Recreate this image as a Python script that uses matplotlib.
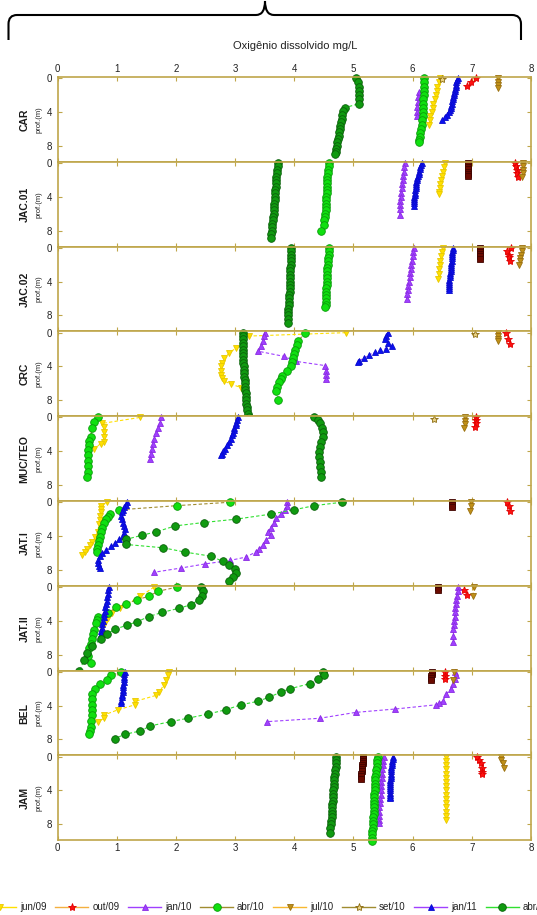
import matplotlib
matplotlib.use("Agg")
import matplotlib.pyplot as plt
from matplotlib.path import Path
from matplotlib.patches import PathPatch
from matplotlib.lines import Line2D

plt.rcParams["font.family"] = ["Liberation Sans", "DejaVu Sans"]

# campaigns in legend order
campaigns = ["jun/09", "out/09", "jan/10", "abr/10", "jul/10", "set/10",
             "jan/11", "abr/11", "jul/11"]

stations = ["CAR", "JAC.01", "JAC.02", "CRC", "MUC/TEO", "JAT.I", "JAT.II", "BEL", "JAM"]

# dissolved oxygen (mg/L) and depth (m) per campaign, one dict per station
car = {
    "jun/09": ([6.46, 6.44, 6.42, 6.41, 6.39, 6.37, 6.35, 6.34, 6.32, 6.30, 6.29, 6.28],
               [0, 0.5, 1.0, 1.5, 2.0, 2.5, 3.0, 3.5, 4.0, 4.5, 5.0, 5.5]),
    "out/09": ([7.07, 6.99, 6.92], [0, 0.5, 0.95]),
    "jan/10": ([6.10, 6.09, 6.09, 6.08, 6.08, 6.08], [1.6, 2.2, 2.8, 3.4, 4.0, 4.5]),
    "abr/10": ([6.20, 6.20, 6.19, 6.19, 6.19, 6.18, 6.18, 6.18, 6.17, 6.17, 6.16, 6.15,
                6.14, 6.13, 6.12, 6.11, 6.11],
               [0, 0.5, 1.0, 1.5, 2.0, 2.5, 3.0, 3.5, 4.0, 4.5, 5.0, 5.5, 6.0, 6.5, 7.0, 7.3, 7.6]),
    "jul/10": ([7.45, 7.45, 7.45, 7.45], [0, 0.4, 0.8, 1.2]),
    "set/10": ([6.50], [0.05]),
    "jan/11": ([6.76, 6.75, 6.74, 6.73, 6.73, 6.72, 6.71, 6.70, 6.70, 6.69, 6.68, 6.67,
                6.66, 6.65, 6.64, 6.63, 6.61, 6.58, 6.54, 6.50],
               [0, 0.25, 0.5, 0.75, 1.0, 1.25, 1.5, 1.75, 2.0, 2.25, 2.5, 2.75, 3.0, 3.25,
                3.5, 3.75, 4.0, 4.3, 4.6, 4.9]),
    "abr/11": ([5.04, 5.07, 5.09, 5.10, 5.10, 5.10, 5.10, 4.85, 4.83, 4.81, 4.80, 4.79,
                4.78, 4.77, 4.76, 4.75, 4.74, 4.73, 4.72, 4.71, 4.70, 4.69],
               [0, 0.5, 1.0, 1.5, 2.0, 2.5, 3.0, 3.5, 3.9, 4.4, 4.8, 5.2, 5.6, 6.0, 6.4,
                6.8, 7.2, 7.6, 8.0, 8.4, 8.7, 9.0]),
}

jac01 = {
    "jun/09": ([6.55, 6.53, 6.51, 6.50, 6.48, 6.47, 6.46, 6.45, 6.44],
               [0, 0.5, 1.0, 1.5, 2.0, 2.5, 3.0, 3.4, 3.7]),
    "out/09": ([7.73, 7.75, 7.76, 7.77, 7.78], [0, 0.4, 0.8, 1.2, 1.6]),
    "jan/10": ([5.87, 5.86, 5.85, 5.84, 5.83, 5.82, 5.82, 5.81, 5.80, 5.79, 5.79, 5.78, 5.78],
               [0, 0.5, 1.0, 1.5, 2.0, 2.5, 3.0, 3.5, 4.0, 4.5, 5.0, 5.5, 6.1]),
    "abr/10": ([4.58, 4.58, 4.57, 4.57, 4.56, 4.56, 4.56, 4.55, 4.55, 4.55, 4.54, 4.54,
                4.53, 4.53, 4.53, 4.52, 4.52, 4.51, 4.51, 4.45],
               [0, 0.4, 0.8, 1.2, 1.6, 2.0, 2.4, 2.8, 3.2, 3.6, 4.0, 4.4, 4.8, 5.2, 5.6,
                6.0, 6.4, 6.8, 7.3, 8.0]),
    "jul/10": ([7.87, 7.87, 7.86, 7.86, 7.85], [0, 0.4, 0.8, 1.2, 1.7]),
    "jan/11": ([6.15, 6.14, 6.13, 6.12, 6.11, 6.10, 6.09, 6.08, 6.07, 6.06, 6.06, 6.05,
                6.05, 6.04, 6.04, 6.04, 6.03, 6.03, 6.03, 6.03, 6.02],
               [0, 0.25, 0.5, 0.75, 1.0, 1.25, 1.5, 1.75, 2.0, 2.25, 2.5, 2.75, 3.0, 3.25,
                3.5, 3.75, 4.0, 4.25, 4.5, 4.75, 5.1]),
    "abr/11": ([3.72, 3.72, 3.71, 3.71, 3.70, 3.70, 3.69, 3.69, 3.68, 3.68, 3.67, 3.67,
                3.66, 3.66, 3.65, 3.65, 3.64, 3.64, 3.63, 3.62, 3.62, 3.61, 3.60],
               [0, 0.4, 0.8, 1.2, 1.6, 2.0, 2.4, 2.8, 3.2, 3.6, 4.0, 4.4, 4.8, 5.2, 5.6,
                6.0, 6.4, 6.8, 7.2, 7.6, 8.0, 8.4, 8.9]),
    "jul/11": ([6.94, 6.94, 6.94, 6.93, 6.93, 6.93, 6.93], [0, 0.25, 0.5, 0.75, 1.0, 1.25, 1.5]),
}

jac02 = {
    "jun/09": ([6.51, 6.50, 6.48, 6.47, 6.46, 6.45, 6.44, 6.43],
               [0, 0.5, 1.0, 1.5, 2.0, 2.5, 3.1, 3.7]),
    "out/09": ([7.67, 7.60, 7.62, 7.63, 7.65], [0, 0.4, 0.8, 1.1, 1.5]),
    "jan/10": ([6.02, 6.01, 6.00, 5.99, 5.98, 5.97, 5.96, 5.95, 5.94, 5.93, 5.92, 5.91, 5.90],
               [0, 0.5, 1.0, 1.5, 2.0, 2.5, 3.0, 3.5, 4.0, 4.5, 5.0, 5.5, 6.1]),
    "abr/10": ([4.58, 4.58, 4.58, 4.57, 4.57, 4.57, 4.56, 4.56, 4.56, 4.55, 4.55, 4.55,
                4.54, 4.54, 4.54, 4.53, 4.53, 4.53, 4.52],
               [0, 0.4, 0.8, 1.2, 1.6, 2.0, 2.4, 2.8, 3.2, 3.6, 4.0, 4.4, 4.8, 5.2, 5.6,
                6.0, 6.4, 6.8, 7.0]),
    "jul/10": ([7.84, 7.84, 7.83, 7.82, 7.81, 7.80], [0, 0.4, 0.8, 1.2, 1.6, 2.0]),
    "jan/11": ([6.68, 6.68, 6.67, 6.67, 6.67, 6.66, 6.66, 6.65, 6.65, 6.65, 6.64, 6.64,
                6.63, 6.63, 6.63, 6.62, 6.62, 6.62, 6.61, 6.61, 6.61],
               [0, 0.25, 0.5, 0.75, 1.0, 1.25, 1.5, 1.75, 2.0, 2.25, 2.5, 2.75, 3.0, 3.25,
                3.5, 3.75, 4.0, 4.25, 4.5, 4.75, 5.0]),
    "abr/11": ([3.95, 3.95, 3.95, 3.94, 3.94, 3.94, 3.93, 3.93, 3.93, 3.93, 3.92, 3.92,
                3.92, 3.92, 3.91, 3.91, 3.91, 3.91, 3.90, 3.90, 3.90, 3.90, 3.90],
               [0, 0.4, 0.8, 1.2, 1.6, 2.0, 2.4, 2.8, 3.2, 3.6, 4.0, 4.4, 4.8, 5.2, 5.6,
                6.0, 6.4, 6.8, 7.2, 7.6, 8.0, 8.4, 8.9]),
    "jul/11": ([7.14, 7.14, 7.14, 7.13, 7.13, 7.13], [0, 0.25, 0.5, 0.75, 1.0, 1.3]),
}

crc = {
    "jun/09": ([4.87, 3.24, 3.02, 2.90, 2.81, 2.78, 2.77, 2.77, 2.77, 2.78, 2.81, 2.93, 3.10],
               [0, 0.4, 1.8, 2.4, 3.0, 3.6, 4.0, 4.5, 5.0, 5.4, 5.7, 6.1, 6.5]),
    "out/09": ([7.58, 7.61, 7.64], [0, 0.8, 1.4]),
    "jan/10": ([3.50, 3.49, 3.48, 3.44, 3.39, 3.82, 4.03, 4.52, 4.53, 4.53, 4.53],
               [0, 0.4, 1.0, 1.6, 2.2, 2.8, 3.4, 3.9, 4.5, 5.0, 5.5]),
    "abr/10": ([4.19, 4.06, 4.04, 4.01, 4.00, 3.98, 3.96, 3.94, 3.87, 3.80, 3.77, 3.74,
                3.71, 3.70, 3.73],
               [0, 1.0, 1.5, 2.0, 2.5, 3.0, 3.5, 3.9, 4.5, 5.1, 5.5, 5.9, 6.4, 6.9, 8.0]),
    "jul/10": ([7.44, 7.44, 7.44, 7.44], [0, 0.35, 0.7, 1.0]),
    "set/10": ([7.06], [0.1]),
    "jan/11": ([5.58, 5.55, 5.53, 5.58, 5.65, 5.55, 5.45, 5.36, 5.27, 5.18, 5.10, 5.07],
               [0, 0.4, 0.8, 1.2, 1.6, 1.9, 2.1, 2.35, 2.6, 3.0, 3.3, 3.5]),
    "abr/11": ([3.13, 3.13, 3.13, 3.13, 3.13, 3.13, 3.14, 3.14, 3.14, 3.14, 3.15, 3.15,
                3.15, 3.15, 3.16, 3.16, 3.17, 3.17, 3.18, 3.18, 3.19, 3.19, 3.20, 3.21,
                3.22, 3.23],
               [0, 0.4, 0.8, 1.2, 1.6, 2.0, 2.4, 2.8, 3.2, 3.6, 4.0, 4.4, 4.8, 5.2, 5.6,
                6.0, 6.4, 6.8, 7.2, 7.6, 8.0, 8.4, 8.8, 9.2, 9.6, 10.0]),
}

muc = {
    "jun/09": ([1.39, 0.76, 0.79, 0.79, 0.79, 0.79, 0.73, 0.62],
               [0, 0.7, 1.1, 1.7, 2.3, 2.9, 3.1, 3.7]),
    "out/09": ([7.07, 7.07, 7.07, 7.06], [0, 0.35, 0.7, 1.1]),
    "jan/10": ([1.75, 1.73, 1.70, 1.67, 1.63, 1.61, 1.60, 1.58, 1.57],
               [0, 0.6, 1.3, 1.9, 2.5, 3.1, 3.7, 4.3, 4.9]),
    "abr/10": ([0.69, 0.62, 0.58, 0.56, 0.54, 0.53, 0.52, 0.52, 0.52, 0.51, 0.51, 0.50],
               [0, 0.5, 1.3, 2.3, 2.8, 3.3, 3.9, 4.5, 5.2, 5.8, 6.5, 7.1]),
    "jul/10": ([6.88, 6.88, 6.88, 6.87], [0, 0.4, 0.8, 1.2]),
    "set/10": ([6.36], [0.2]),
    "jan/11": ([3.05, 3.03, 3.02, 3.01, 2.99, 2.98, 2.97, 2.95, 2.93, 2.90, 2.86, 2.83,
                2.80, 2.78, 2.77],
               [0, 0.3, 0.6, 0.9, 1.2, 1.5, 1.8, 2.1, 2.5, 2.9, 3.3, 3.7, 4.0, 4.3, 4.5]),
    "abr/11": ([4.34, 4.40, 4.43, 4.47, 4.49, 4.48, 4.45, 4.44, 4.42, 4.42, 4.43, 4.44,
                4.45, 4.46],
               [0, 0.3, 0.7, 1.2, 1.7, 2.3, 2.9, 3.5, 4.1, 4.7, 5.3, 5.9, 6.5, 7.0]),
}

jat1 = {
    "jun/09": ([0.83, 0.74, 0.73, 0.73, 0.72, 0.71, 0.70, 0.68, 0.64, 0.59, 0.55, 0.50,
                0.46, 0.42],
               [0, 0.4, 0.8, 1.2, 1.6, 2.1, 2.6, 3.5, 4.1, 4.7, 5.1, 5.5, 5.9, 6.3]),
    "out/09": ([7.60, 7.63, 7.65], [0, 0.5, 1.0]),
    "jan/10": ([3.87, 3.88, 3.85, 3.77, 3.70, 3.65, 3.60, 3.55, 3.60, 3.53, 3.48, 3.40,
                3.35, 3.18, 2.91, 2.50, 2.08, 1.63],
               [0, 0.4, 0.9, 1.4, 1.9, 2.4, 3.0, 3.5, 3.9, 4.5, 5.1, 5.5, 5.9, 6.5, 6.9,
                7.3, 7.8, 8.3]),
    "abr/10": ([2.91, 2.02, 1.04, 0.89, 0.85, 0.82, 0.79, 0.76, 0.74, 0.72, 0.70, 0.68,
                0.67, 0.66],
               [0, 0.4, 0.9, 1.4, 1.7, 2.0, 2.5, 3.0, 3.5, 4.1, 4.6, 5.1, 5.5, 5.9]),
    "jul/10": ([6.98, 6.98, 6.97], [0, 0.5, 1.0]),
    "jan/11": ([1.18, 1.15, 1.12, 1.10, 1.09, 1.08, 1.09, 1.11, 1.13, 1.14, 1.13, 1.10,
                1.04, 0.97, 0.90, 0.82, 0.75, 0.71, 0.69, 0.69, 0.70, 0.71],
               [0, 0.3, 0.6, 0.9, 1.2, 1.6, 2.0, 2.4, 2.8, 3.2, 3.6, 4.0, 4.4, 4.8, 5.2,
                5.6, 6.0, 6.4, 6.8, 7.2, 7.5, 7.8]),
    "abr/11": ([4.80, 4.34, 3.99, 3.61, 3.02, 2.47, 1.99, 1.67, 1.43, 1.16, 1.16, 1.79,
                2.15, 2.60, 2.79, 2.89, 3.00, 3.02, 2.97, 2.89],
               [0, 0.4, 0.9, 1.4, 2.0, 2.4, 2.8, 3.5, 3.9, 4.4, 5.0, 5.4, 5.9, 6.4, 7.0,
                7.4, 7.9, 8.4, 8.9, 9.3]),
    "jul/11": ([6.67, 6.67, 6.66], [0, 0.3, 0.6]),
}

jat2 = {
    "jun/09": ([1.63, 1.40, 1.05, 0.92, 0.85, 0.80, 0.76, 0.75, 0.75],
               [0, 1.1, 2.5, 3.1, 3.7, 4.2, 4.8, 5.4, 6.0]),
    "out/09": ([6.86, 6.92], [0.3, 0.9]),
    "jan/10": ([6.77, 6.76, 6.75, 6.74, 6.73, 6.72, 6.71, 6.71, 6.70, 6.70, 6.69, 6.69, 6.69],
               [0, 0.5, 1.0, 1.5, 2.0, 2.5, 3.0, 3.5, 4.0, 4.5, 5.0, 5.8, 6.5]),
    "abr/10": ([2.02, 1.70, 1.54, 1.34, 1.16, 0.99, 0.85, 0.68, 0.66, 0.65, 0.62, 0.60,
                0.59, 0.56, 0.54, 0.52, 0.56],
               [0, 0.5, 1.1, 1.5, 2.0, 2.4, 3.1, 3.5, 3.9, 4.3, 5.1, 5.6, 6.2, 6.7, 7.2,
                8.2, 9.0]),
    "jul/10": ([7.03, 7.02], [0, 1.1]),
    "jan/11": ([0.87, 0.86, 0.85, 0.84, 0.83, 0.82, 0.81, 0.80, 0.79, 0.78, 0.77, 0.76,
                0.75, 0.74, 0.73, 0.72],
               [0, 0.4, 0.8, 1.2, 1.6, 2.0, 2.4, 2.8, 3.2, 3.6, 4.0, 4.4, 4.8, 5.2, 5.6, 6.0]),
    "abr/11": ([2.43, 2.45, 2.44, 2.39, 2.25, 2.06, 1.77, 1.54, 1.35, 1.18, 0.97, 0.83,
                0.73, 0.59, 0.50, 0.45, 0.37],
               [0, 0.5, 1.1, 1.5, 2.1, 2.5, 3.0, 3.5, 4.1, 4.5, 5.0, 5.6, 6.2, 7.0, 7.8,
                8.6, 10.0]),
    "jul/11": ([6.43, 6.43], [0, 0.4]),
}

bel = {
    "jun/09": ([1.89, 1.86, 1.83, 1.80, 1.72, 1.66, 1.31, 1.31, 1.02, 0.79, 0.79, 0.68],
               [0, 0.4, 1.0, 1.5, 2.4, 2.8, 3.5, 3.9, 4.5, 5.1, 5.5, 5.9]),
    "out/09": ([6.54, 6.54, 6.55], [0, 0.45, 0.9]),
    "jan/10": ([6.71, 6.73, 6.72, 6.69, 6.65, 6.57, 6.51, 6.45, 6.40, 5.71, 5.04, 4.43, 3.54],
               [0, 0.4, 0.8, 1.4, 2.0, 2.6, 3.5, 3.7, 3.9, 4.4, 4.8, 5.5, 5.9]),
    "abr/10": ([1.08, 0.91, 0.83, 0.71, 0.64, 0.59, 0.58, 0.58, 0.58, 0.58, 0.57, 0.56,
                0.55, 0.54],
               [0, 0.4, 1.0, 1.4, 2.0, 2.6, 3.2, 3.9, 4.5, 5.1, 5.8, 6.5, 7.0, 7.4]),
    "jul/10": ([6.70, 6.69], [0, 1.0]),
    "jan/11": ([1.14, 1.13, 1.13, 1.12, 1.12, 1.11, 1.11, 1.10, 1.10, 1.09, 1.09, 1.08, 1.08],
               [0, 0.3, 0.6, 0.9, 1.2, 1.5, 1.8, 2.1, 2.4, 2.7, 3.0, 3.4, 3.7]),
    "abr/11": ([4.49, 4.51, 4.40, 4.26, 3.93, 3.77, 3.58, 3.38, 3.10, 2.84, 2.54, 2.20,
                1.91, 1.57, 1.40, 1.14, 0.97],
               [0, 0.4, 0.9, 1.4, 2.0, 2.4, 3.0, 3.5, 3.9, 4.5, 5.0, 5.5, 5.9, 6.4, 7.0,
                7.4, 7.9]),
    "jul/11": ([6.32, 6.32, 6.31, 6.31, 6.31], [0, 0.25, 0.5, 0.75, 1.0]),
}

jam = {
    "jun/09": ([6.57, 6.57, 6.57, 6.57, 6.57, 6.57, 6.57, 6.57, 6.57, 6.57, 6.57, 6.57,
                6.57, 6.57, 6.57, 6.57],
               [0, 0.5, 1.0, 1.5, 2.0, 2.5, 3.0, 3.5, 4.0, 4.5, 5.0, 5.5, 6.0, 6.5, 7.0, 7.5]),
    "out/09": ([7.09, 7.12, 7.15, 7.17, 7.18, 7.18], [0, 0.4, 0.8, 1.3, 1.8, 2.1]),
    "jan/10": ([5.51, 5.50, 5.50, 5.49, 5.49, 5.48, 5.47, 5.47, 5.46, 5.46, 5.45, 5.45,
                5.44, 5.44, 5.43, 5.43, 5.43],
               [0, 0.5, 1.0, 1.5, 2.0, 2.5, 3.0, 3.5, 4.0, 4.5, 5.0, 5.5, 6.0, 6.5, 7.0,
                7.5, 7.9]),
    "abr/10": ([5.42, 5.40, 5.39, 5.39, 5.38, 5.38, 5.37, 5.37, 5.36, 5.36, 5.36, 5.35,
                5.35, 5.35, 5.34, 5.34, 5.34, 5.34, 5.33, 5.33, 5.33, 5.33, 5.32, 5.32,
                5.32, 5.32],
               [0, 0.4, 0.8, 1.2, 1.6, 2.0, 2.4, 2.8, 3.2, 3.6, 4.0, 4.4, 4.8, 5.2, 5.6,
                6.0, 6.4, 6.8, 7.2, 7.6, 8.0, 8.4, 8.8, 9.2, 9.6, 10.0]),
    "jul/10": ([7.50, 7.50, 7.52, 7.55], [0, 0.4, 0.8, 1.4]),
    "jan/11": ([5.66, 5.66, 5.65, 5.65, 5.65, 5.64, 5.64, 5.64, 5.63, 5.63, 5.63, 5.62,
                5.62, 5.62, 5.62, 5.62, 5.62, 5.62, 5.62, 5.62, 5.62],
               [0, 0.25, 0.5, 0.75, 1.0, 1.25, 1.5, 1.75, 2.0, 2.25, 2.5, 2.75, 3.0, 3.25,
                3.5, 3.75, 4.0, 4.25, 4.5, 4.75, 4.9]),
    "abr/11": ([4.71, 4.71, 4.70, 4.70, 4.69, 4.69, 4.68, 4.68, 4.67, 4.67, 4.66, 4.66,
                4.65, 4.65, 4.64, 4.64, 4.63, 4.63, 4.63, 4.62, 4.62, 4.61, 4.61],
               [0, 0.4, 0.8, 1.2, 1.6, 2.0, 2.4, 2.8, 3.2, 3.6, 4.0, 4.4, 4.8, 5.2, 5.6,
                6.0, 6.4, 6.8, 7.2, 7.6, 8.0, 8.4, 9.0]),
    "jul/11": ([5.17, 5.17, 5.16, 5.16, 5.15, 5.15, 5.14, 5.14, 5.13, 5.13, 5.13],
               [0, 0.25, 0.5, 0.75, 1.0, 1.25, 1.5, 1.75, 2.0, 2.3, 2.6]),
}

profiles = [car, jac01, jac02, crc, muc, jat1, jat2, bel, jam]

# marker, marker face, marker edge, line colour, marker size
styles = {
    "jun/09": ("v", "#FFE000", "#E8C800", "#FFE000", 4.8),
    "out/09": ("*", "#FF1010", "#E00000", "#F4B040", 6),
    "jan/10": ("^", "#A040FF", "#8A2BE2", "#A040FF", 4.8),
    "abr/10": ("o", "#10E010", "#0A9A0A", "#A08C30", 5.5),
    "jul/10": ("v", "#C09018", "#9A7010", "#F8B830", 4.8),
    "set/10": ("*", "#E8D080", "#8A6A10", "#A08C30", 6),
    "jan/11": ("^", "#0A10F0", "#0A0ACC", "#A040FF", 4.2),
    "abr/11": ("o", "#109A10", "#0A600A", "#30E030", 5.5),
    "jul/11": ("s", "#6A0A00", "#400500", "#6A0A00", 3.8),
}

W, H = 537, 915
spine_col = "#BFA64A"
fig = plt.figure(figsize=(W / 100, H / 100), dpi=100)

left_px, right_px = 57.5, 531
top_px, panel_px = 77, 84.8

for i, (name, prof) in enumerate(zip(stations, profiles)):
    top = top_px + i * panel_px
    ax = fig.add_axes([left_px / W, 1 - (top + panel_px) / H,
                       (right_px - left_px) / W, panel_px / H])
    for c in campaigns:
        if c not in prof:
            continue
        od, depth = prof[c]
        mk, fc, ec, lc, ms = styles[c]
        ax.plot(od, depth, color=lc, lw=0.8, ls=(0, (3, 2)), marker=mk, ms=ms,
                mfc=fc, mec=ec, mew=0.6, clip_on=False)
    ax.set_xlim(0, 8)
    ax.set_ylim(9.9, -0.15)
    ax.set_xticks(range(9))
    ax.set_yticks([0, 4, 8])
    ax.tick_params(direction="in", length=3, width=0.8, color=spine_col,
                   top=True, right=True, labelsize=7, pad=2,
                   labelbottom=(i == len(stations) - 1), labeltop=(i == 0),
                   labelcolor="#222222")
    ax.tick_params(axis="y", pad=4)
    for sp in ax.spines.values():
        sp.set_color(spine_col)
        sp.set_linewidth(1.2)
    ax.text(-0.07, 0.5, name, transform=ax.transAxes, rotation=90,
            ha="center", va="center", fontsize=7.5, fontweight="bold", color="#1a1a1a")
    ax.text(-0.039, 0.5, "prof.(m)", transform=ax.transAxes, rotation=90,
            ha="center", va="center", fontsize=5.5, color="#222222")

fig.text(295 / W, 1 - 46 / H, "Oxigênio dissolvido mg/L", ha="center", va="center",
         fontsize=8, color="#222222")

# curly brace over the panels
brace_px = [(8.5, 40), (8.5, 24), (8.5, 15), (17, 15), (256, 15), (265, 15), (265, 1),
            (265, 15), (274, 15), (512, 15), (521, 15), (521, 24), (521, 40)]
codes = [Path.MOVETO, Path.LINETO, Path.CURVE3, Path.CURVE3, Path.LINETO,
         Path.CURVE3, Path.CURVE3, Path.CURVE3, Path.CURVE3, Path.LINETO,
         Path.CURVE3, Path.CURVE3, Path.LINETO]
verts = [(x / W, 1 - y / H) for x, y in brace_px]
fig.add_artist(PathPatch(Path(verts, codes), transform=fig.transFigure,
                         fill=False, lw=1.5, ec="black", joinstyle="miter"))

handles = []
for c in campaigns:
    mk, fc, ec, lc, ms = styles[c]
    handles.append(Line2D([], [], color=lc, lw=1, marker=mk, ms=ms, mfc=fc, mec=ec,
                          mew=0.6, label=c))
fig.legend(handles=handles, ncol=len(campaigns), loc="center left",
           bbox_to_anchor=(-17 / W, 1 - 907 / H), frameon=False, fontsize=7,
           handlelength=3.4, handletextpad=0.4, columnspacing=0.9,
           borderpad=0, borderaxespad=0, labelcolor="#222222")

fig.savefig("out.png", dpi=100)
